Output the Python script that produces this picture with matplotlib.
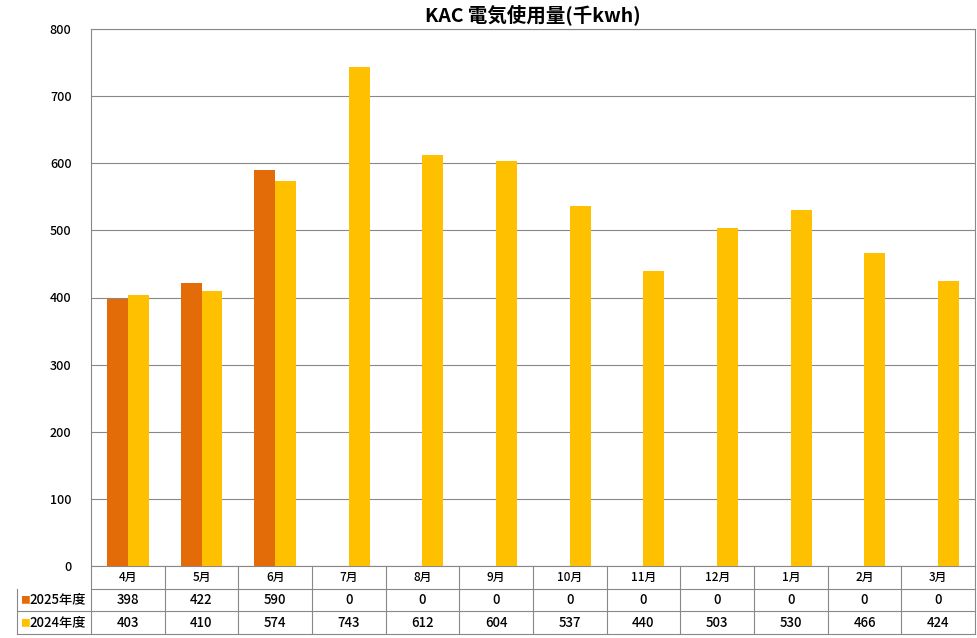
import matplotlib
matplotlib.use('Agg')
import matplotlib.pyplot as plt
import numpy as np

plt.rcParams['font.family'] = ['Noto Sans CJK JP', 'DejaVu Sans']
plt.rcParams['font.weight'] = 'medium'

months = ['4月', '5月', '6月', '7月', '8月', '9月', '10月', '11月', '12月', '1月', '2月', '3月']
y2025 = [398, 422, 590, 0, 0, 0, 0, 0, 0, 0, 0, 0]
y2024 = [403, 410, 574, 743, 612, 604, 537, 440, 503, 530, 466, 424]
names = ['2025年度', '2024年度']
colors = ['#E36C09', '#FFC000']

fig = plt.figure(figsize=(9.77, 6.38), dpi=100)
ax = fig.add_axes([91/977, 72/638, 884/977, 537/638])

x = np.arange(len(months)) + 0.5
w = 0.285
ax.bar(x - w/2, y2025, w, color=colors[0], zorder=3)
ax.bar(x + w/2, y2024, w, color=colors[1], zorder=3)

ax.set_xlim(0, 12)
ax.set_ylim(0, 800)
ax.set_yticks(range(0, 801, 100))
ax.tick_params(axis='y', length=0, labelsize=9, pad=14)
ax.set_xticks([])
ax.grid(axis='y', color='#888888', linewidth=0.8, zorder=0)
for s in ax.spines.values():
    s.set_color('#888888')
ax.set_title('KAC 電気使用量(千kwh)', fontsize=14, fontweight='bold', pad=6)

# data table below axes
rh = 22.7 / 537
left = (17 - 91) / 884
lc = '#888888'
kw = dict(transform=ax.transAxes, clip_on=False, color=lc, linewidth=0.8)
for r in range(1, 4):
    ax.plot([left if r > 1 else 0, 1], [-r * rh, -r * rh], **kw)
for c in range(13):
    ax.plot([c / 12, c / 12], [0, -3 * rh], **kw)
ax.plot([left, left], [-rh, -3 * rh], **kw)
for i, m in enumerate(months):
    ax.text((i + 0.5) / 12, -0.5 * rh, m, transform=ax.transAxes, ha='center', va='center', fontsize=8.5)
for r, (vals, nm, col) in enumerate(zip([y2025, y2024], names, colors)):
    yc = -(r + 1.5) * rh
    for i, v in enumerate(vals):
        ax.text((i + 0.5) / 12, yc, str(v), transform=ax.transAxes, ha='center', va='center', fontsize=9.5)
    ax.text(left + 0.003, yc, '■', color=col, transform=ax.transAxes, ha='left', va='center', fontsize=7)
    ax.text(left + 0.014, yc, nm, transform=ax.transAxes, ha='left', va='center', fontsize=9.5)

fig.savefig('out.png', dpi=100)
